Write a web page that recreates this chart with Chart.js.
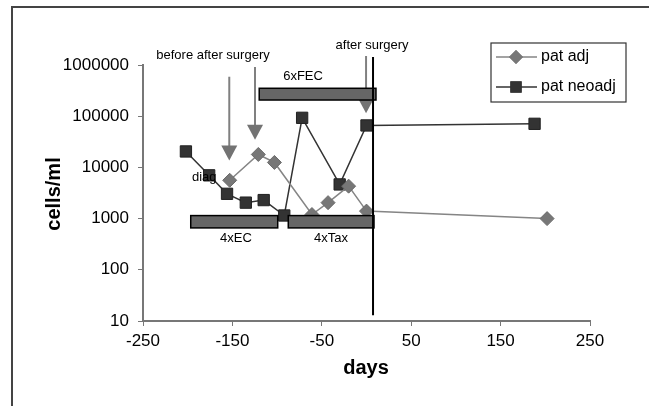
<!DOCTYPE html>
<html><head><meta charset="utf-8">
<script src="https://cdn.jsdelivr.net/npm/chart.js@4.4.1/dist/chart.umd.min.js"></script>
<style>html,body{margin:0;padding:0;background:#fff;}#wrap{width:649px;height:406px;position:relative;}</style>
</head><body><div id="wrap"><canvas id="c" width="649" height="406"></canvas></div>
<script>
// ---- data ----
const adjDays  = [-153, -121, -103, -61, -43, -20, 0, 202];
const adjCells = [5600, 17900, 12500, 1200, 2050, 4300, 1400, 1000];
const neoDays  = [-202, -176, -156, -135, -115, -92, -72, -30, 0, 188];
const neoCells = [20500, 7000, 3050, 2050, 2300, 1150, 93000, 4650, 66000, 71000];
const seriesNames = ['pat adj', 'pat neoadj'];
const xTickValues = [-250, -150, -50, 50, 150, 250];
const yTickValues = [10, 100, 1000, 10000, 100000, 1000000];
const yTickLabels = ['10', '100', '1000', '10000', '100000', '1000000'];
// treatment periods (days, cells/ml)
const barNames  = ['6xFEC', '4xEC', '4xTax'];
const barStart  = [-120, -196.6, -87.5];
const barEnd    = [10.6, -99.3, 8.4];
const barLow    = [207000, 658, 658];
const barHigh   = [351000, 1145, 1145];
const barLabelX = [-71, -146, -39.7];
const barLabelY = [590000, 407, 407];
// sampling arrows (day, from cells, to cells)
const arrowDay  = [-153.5, -124.7, -0.5];
const arrowFrom = [590000, 914000, 1500000];
const arrowTo   = [13700, 34800, 114000];
// text notes
const noteText = ['before after surgery', 'after surgery', 'diag'];
const noteX    = [-171.7, 6.2, -195.2];
const noteY    = [1570000, 2460000, 6380];
// surgery line
const surgeryDay = 7.3, surgeryTop = 1430000, surgeryBottom = 13;

const FONT = '"Liberation Sans", Arial, Helvetica, sans-serif';

const annot = {
  id: 'annot',
  afterDatasetsDraw(chart) {
    const {ctx, scales: {x, y}} = chart;
    ctx.save();
    // arrows
    for (let i = 0; i < arrowDay.length; i++) {
      const px = x.getPixelForValue(arrowDay[i]);
      const y0 = y.getPixelForValue(arrowFrom[i]);
      const y1 = y.getPixelForValue(arrowTo[i]);
      ctx.strokeStyle = '#808080'; ctx.lineWidth = 2;
      ctx.beginPath(); ctx.moveTo(px, y0); ctx.lineTo(px, y1 - 14); ctx.stroke();
      ctx.fillStyle = '#737373';
      ctx.beginPath(); ctx.moveTo(px - 8, y1 - 15); ctx.lineTo(px + 8, y1 - 15); ctx.lineTo(px, y1); ctx.closePath(); ctx.fill();
    }
    // bars
    ctx.font = '13px ' + FONT; ctx.textAlign = 'center'; ctx.textBaseline = 'middle';
    for (let i = 0; i < barNames.length; i++) {
      const x0 = x.getPixelForValue(barStart[i]), x1 = x.getPixelForValue(barEnd[i]);
      const y0 = y.getPixelForValue(barHigh[i]), y1 = y.getPixelForValue(barLow[i]);
      ctx.fillStyle = '#666666'; ctx.fillRect(x0, y0, x1 - x0, y1 - y0);
      ctx.strokeStyle = '#000'; ctx.lineWidth = 1.5; ctx.strokeRect(x0, y0, x1 - x0, y1 - y0);
      ctx.fillStyle = '#000';
      ctx.fillText(barNames[i], x.getPixelForValue(barLabelX[i]), y.getPixelForValue(barLabelY[i]));
    }
    // notes
    for (let i = 0; i < noteText.length; i++) {
      ctx.textAlign = i === 2 ? 'left' : 'center';
      ctx.fillStyle = '#000';
      ctx.fillText(noteText[i], x.getPixelForValue(noteX[i]), y.getPixelForValue(noteY[i]));
    }
    // surgery line
    const sx = x.getPixelForValue(surgeryDay);
    ctx.strokeStyle = '#000'; ctx.lineWidth = 2;
    ctx.beginPath(); ctx.moveTo(sx, y.getPixelForValue(surgeryTop)); ctx.lineTo(sx, y.getPixelForValue(surgeryBottom)); ctx.stroke();
    ctx.restore();
  },
  afterDraw(chart) {
    const {ctx} = chart;
    ctx.save();
    // outer frame
    ctx.strokeStyle = '#444'; ctx.lineWidth = 2;
    ctx.strokeRect(12, 7, 700, 500);
    // axis titles
    ctx.fillStyle = '#000';
    ctx.font = 'bold 20px ' + FONT; ctx.textAlign = 'center'; ctx.textBaseline = 'middle';
    ctx.fillText('days', 366, 368);
    ctx.translate(54, 194); ctx.rotate(-Math.PI / 2); ctx.fillText('cells/ml', 0, 0);
    ctx.restore();
    // legend
    ctx.save();
    ctx.strokeStyle = '#333'; ctx.lineWidth = 1.2;
    ctx.strokeRect(491, 43, 135, 59);
    const ds = chart.data.datasets;
    const rows = [57, 87];
    ctx.font = '16px ' + FONT; ctx.textAlign = 'left'; ctx.textBaseline = 'middle';
    for (let i = 0; i < ds.length; i++) {
      const ly = rows[i];
      ctx.strokeStyle = ds[i].borderColor; ctx.lineWidth = 1.5;
      ctx.beginPath(); ctx.moveTo(496, ly); ctx.lineTo(537, ly); ctx.stroke();
      ctx.fillStyle = ds[i].pointBackgroundColor;
      Chart.helpers.drawPoint(ctx, {pointStyle: ds[i].pointStyle, radius: ds[i].pointRadius, rotation: 0, borderWidth: 0}, 516, ly);
      ctx.fill();
      ctx.fillStyle = '#000';
      ctx.fillText(seriesNames[i], 541, ly);
    }
    ctx.restore();
  }
};

new Chart(document.getElementById('c'), {
  type: 'scatter',
  data: {
    datasets: [
      { label: seriesNames[0], data: adjDays.map((d, i) => ({x: d, y: adjCells[i]})),
        showLine: true, borderColor: '#858585', borderWidth: 1.5,
        pointStyle: 'rectRot', pointRadius: 7, pointBackgroundColor: '#777777', pointBorderColor: '#6a6a6a', pointBorderWidth: 1 },
      { label: seriesNames[1], data: neoDays.map((d, i) => ({x: d, y: neoCells[i]})),
        showLine: true, borderColor: '#333333', borderWidth: 1.5,
        pointStyle: 'rect', pointRadius: 8, pointBackgroundColor: '#333333', pointBorderColor: '#222222', pointBorderWidth: 1 }
    ]
  },
  options: {
    responsive: false, animation: false, devicePixelRatio: 1,
    layout: { padding: { left: 0, top: 65, right: 59, bottom: 0 } },
    plugins: { legend: { display: false }, tooltip: { enabled: false } },
    scales: {
      x: {
        type: 'linear', min: -250, max: 250,
        afterBuildTicks: s => { s.ticks = xTickValues.map(v => ({value: v})); },
        afterFit: s => { s.height = 85; },
        grid: { drawOnChartArea: false, drawTicks: true, tickLength: 5, color: '#777' },
        border: { display: true, color: '#777', width: 2 },
        ticks: { color: '#000', font: { family: FONT, size: 17 }, padding: 5, maxRotation: 0,
                 callback: v => String(v) }
      },
      y: {
        type: 'logarithmic', min: 10, max: 1000000,
        afterBuildTicks: s => { s.ticks = yTickValues.map(v => ({value: v})); },
        afterFit: s => { s.width = 143; },
        grid: { drawOnChartArea: false, drawTicks: true, tickLength: 5, color: '#777' },
        border: { display: true, color: '#777', width: 2 },
        ticks: { color: '#000', font: { family: FONT, size: 17 }, padding: 9,
                 callback: (v) => { const k = yTickValues.indexOf(v); return k >= 0 ? yTickLabels[k] : ''; } }
      }
    }
  },
  plugins: [annot]
});
</script></body></html>
